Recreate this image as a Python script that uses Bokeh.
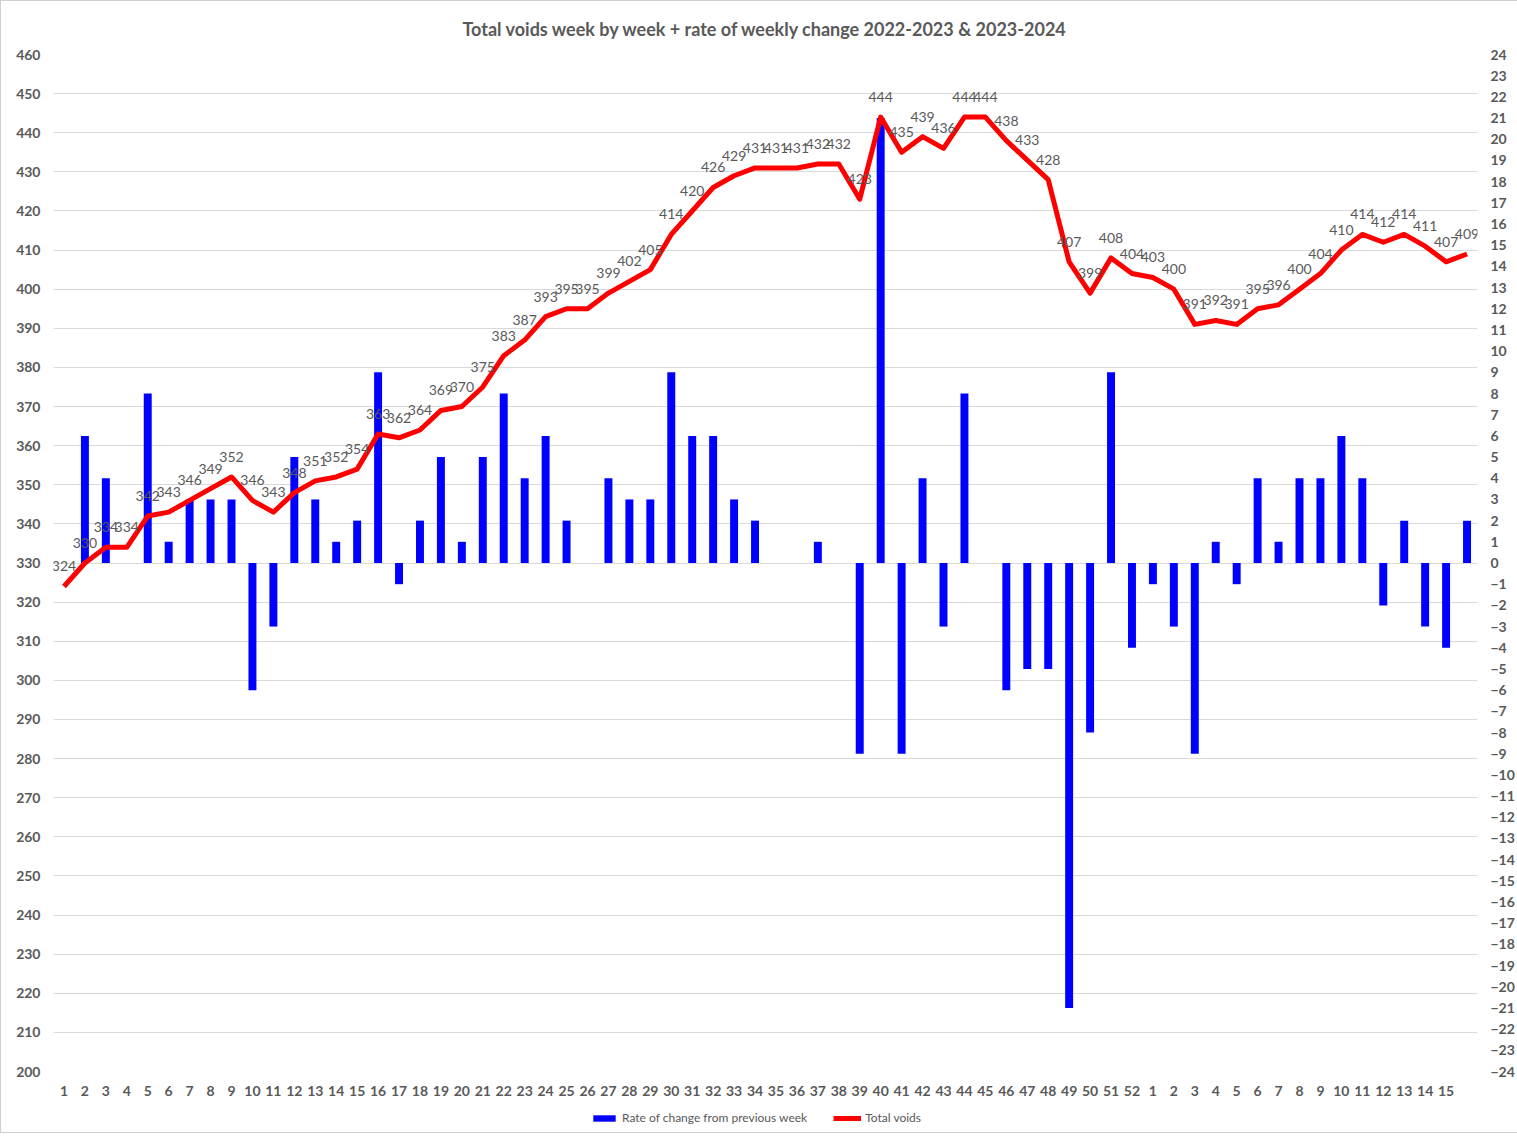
from bokeh.plotting import figure
from bokeh.models import (Range1d, LinearAxis, FixedTicker, ColumnDataSource,
                          Legend, LegendItem)
from bokeh.layouts import column
from bokeh.embed import file_html
from bokeh.resources import INLINE
from bokeh.core.properties import value

# ---------------- data ----------------
week_labels = ["1", "2", "3", "4", "5", "6", "7", "8", "9", "10",
               "11", "12", "13", "14", "15", "16", "17", "18", "19", "20",
               "21", "22", "23", "24", "25", "26", "27", "28", "29", "30",
               "31", "32", "33", "34", "35", "36", "37", "38", "39", "40",
               "41", "42", "43", "44", "45", "46", "47", "48", "49", "50",
               "51", "52", "1", "2", "3", "4", "5", "6", "7", "8",
               "9", "10", "11", "12", "13", "14", "15", ""]

total_voids = [324, 330, 334, 334, 342, 343, 346, 349, 352, 346,
               343, 348, 351, 352, 354, 363, 362, 364, 369, 370,
               375, 383, 387, 393, 395, 395, 399, 402, 405, 414,
               420, 426, 429, 431, 431, 431, 432, 432, 423, 444,
               435, 439, 436, 444, 444, 438, 433, 428, 407, 399,
               408, 404, 403, 400, 391, 392, 391, 395, 396, 400,
               404, 410, 414, 412, 414, 411, 407, 409]

rate_of_change = [0, 6, 4, 0, 8, 1, 3, 3, 3, -6,
                  -3, 5, 3, 1, 2, 9, -1, 2, 5, 1,
                  5, 8, 4, 6, 2, 0, 4, 3, 3, 9,
                  6, 6, 3, 2, 0, 0, 1, 0, -9, 21,
                  -9, 4, -3, 8, 0, -6, -5, -5, -21, -8,
                  9, -4, -1, -3, -9, 1, -1, 4, 1, 4,
                  4, 6, 4, -2, 2, -3, -4, 2]

left_ticks = list(range(200, 461, 10))
right_ticks = list(range(-24, 25))

title_text = "Total voids week by week + rate of weekly change 2022-2023 & 2023-2024"
legend_labels = ["Rate of change from previous week", "Total voids"]

# ---------------- figure ----------------
x_pos = list(range(1, len(week_labels) + 1))
src = ColumnDataSource(dict(x=x_pos, total=total_voids, rate=rate_of_change,
                            lbl=[str(v) for v in total_voids]))

FONT = "Lato"
GREY = "#595959"
BLUE = "#0000FF"
RED = "#FF0000"
FW, FH = 1424, 1017
BL, BR = 52, 38

p = figure(frame_width=FW, frame_height=FH, output_backend="svg", toolbar_location=None,
           x_range=Range1d(0.5, len(week_labels) + 0.5), y_range=Range1d(200, 460),
           min_border_left=BL, min_border_right=BR, min_border_top=53, min_border_bottom=33,
           title=title_text)
p.extra_y_ranges = {"rate": Range1d(-24, 24)}
p.outline_line_color = None
p.background_fill_color = "white"
p.border_fill_color = "white"

p.title.align = "center"
p.title.text_font = FONT
p.title.text_font_size = "18px"
p.title.text_font_style = "bold"
p.title.text_color = GREY
p.title.text_line_height = 1.0
p.title.standoff = 29

# x axis
p.xaxis.ticker = FixedTicker(ticks=x_pos)
p.xaxis.major_label_overrides = {i: lab for i, lab in zip(x_pos, week_labels)}
# left y axis
p.yaxis.ticker = FixedTicker(ticks=left_ticks)
# right y axis
raxis = LinearAxis(y_range_name="rate", ticker=FixedTicker(ticks=right_ticks))
p.add_layout(raxis, "right")

for ax in [p.xaxis[0], p.yaxis[0], raxis]:
    ax.axis_label = None
    ax.axis_label_standoff = 0
    ax.axis_line_color = None
    ax.major_tick_line_color = None
    ax.minor_tick_line_color = None
    ax.major_tick_out = 0
    ax.major_tick_in = 0
    ax.minor_tick_out = 0
    ax.major_label_text_font = FONT
    ax.major_label_text_font_style = "bold"
    ax.major_label_text_font_size = "14px"
    ax.major_label_text_color = GREY
p.xaxis.major_label_standoff = 14
p.yaxis[0].major_label_standoff = 13
raxis.major_label_standoff = 13

p.xgrid.visible = False
p.ygrid.ticker = FixedTicker(ticks=left_ticks)
p.ygrid.grid_line_color = "#d9d9d9"
p.ygrid.grid_line_width = 1

p.vbar(x="x", top="rate", bottom=0, width=0.38, source=src,
       fill_color=BLUE, line_color=None, y_range_name="rate")
p.line(x="x", y="total", source=src, line_color=RED, line_width=5, line_join="round")
p.text(x="x", y="total", text="lbl", source=src, text_font=value(FONT),
       text_font_size="14px", text_color=GREY, text_align="center",
       text_baseline="middle", y_offset=-20)

# ---------------- legend strip (separate small figure below the chart) ----------------
lf = figure(width=BL + FW + BR, height=28, output_backend="svg", toolbar_location=None,
            x_range=Range1d(0, 1), y_range=Range1d(0, 1),
            min_border=0, x_axis_location=None, y_axis_location=None)
lf.grid.visible = False
lf.outline_line_color = None
lf.background_fill_color = "white"
lf.border_fill_color = "white"
# legend proxies: one point kept outside the visible range, only their legend swatches show
proxy = ColumnDataSource(dict(x=[-5], y=[-5]))
lb = lf.vbar(x="x", top="y", width=0.1, source=proxy, fill_color=BLUE, line_color=None)
ll = lf.line(x="x", y="y", source=proxy, line_color=RED, line_width=5)
legend = Legend(items=[LegendItem(label=legend_labels[0], renderers=[lb]),
                       LegendItem(label=legend_labels[1], renderers=[ll])],
                orientation="horizontal", location=(537, 7),
                glyph_width=28, glyph_height=8, label_height=14, label_standoff=4,
                spacing=26, padding=0, margin=0,
                label_text_font=FONT, label_text_font_size="12px",
                label_text_color=GREY,
                background_fill_alpha=0, border_line_color=None)
lf.add_layout(legend, "center")

layout = column(p, lf, spacing=0)
layout.styles = {"border": "1px solid #cfcfcf"}

open("out.html", "w").write(file_html(layout, INLINE))
